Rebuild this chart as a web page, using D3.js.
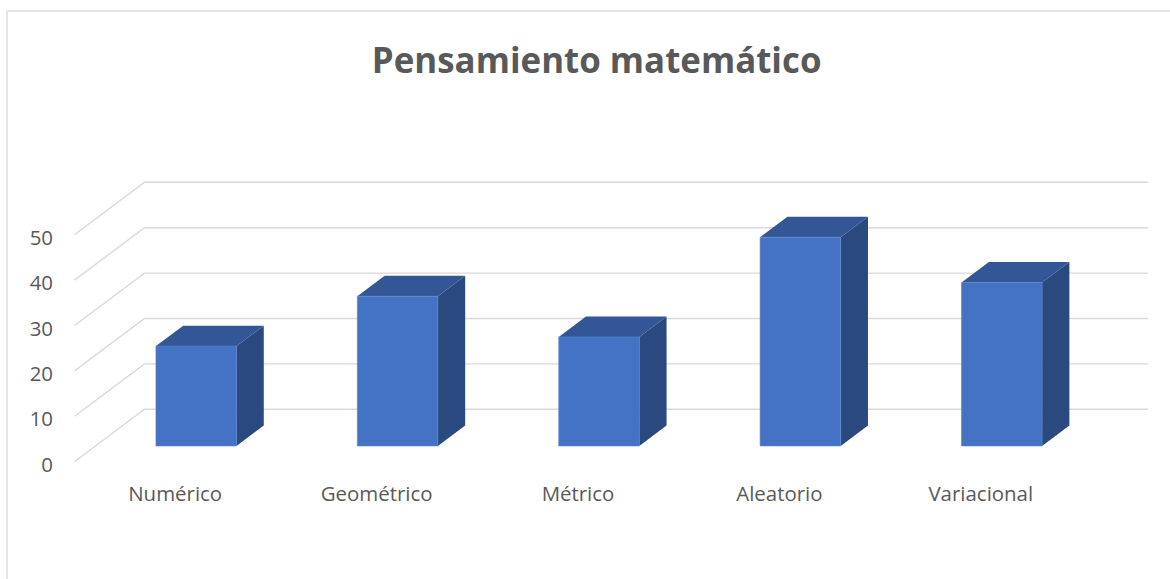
<!DOCTYPE html>
<html>
<head>
<meta charset="utf-8">
<script src="https://cdn.jsdelivr.net/npm/d3@7"></script>
<style>
  html, body { margin: 0; padding: 0; background: #ffffff; }
  svg { display: block; }
</style>
</head>
<body>
<svg id="chart" width="1170" height="579"></svg>
<script>
// ---- data ----
const categories = ["Numérico", "Geométrico", "Métrico", "Aleatorio", "Variacional"];
const values = [22, 33, 24, 46, 36];
const yTicks = [0, 10, 20, 30, 40, 50];
const titleText = "Pensamiento matemático";

// ---- layout ----
const W = 1170, H = 579;
const depthDX = 70, depthDY = -52.4;   // oblique projection of full depth (front -> back)
const barZ0 = 0.30, barZ1 = 0.69;     // bar depth range (fraction of floor depth)

const svg = d3.select("#chart");

const x = d3.scaleBand()
  .domain(categories)
  .range([74.5, 1081.5])
  .paddingInner(0.6)
  .paddingOuter(0.3);

const y = d3.scaleLinear().domain([0, 50]).range([461.7, 234.7]);

// project a (screenX at front, value, depth) to screen coords
const P = (sx, v, z) => [sx + z * depthDX, y(v) + z * depthDY];

const textColor = "#595959";
const gridColor = "#D9D9D9";

// chart border
svg.append("rect")
  .attr("x", 7).attr("y", 11)
  .attr("width", W + 20).attr("height", H + 20)
  .attr("fill", "none")
  .attr("stroke", gridColor)
  .attr("stroke-width", 1.3);

// title
const title = svg.append("text")
  .attr("x", 596.7).attr("y", 73.3)
  .attr("text-anchor", "middle")
  .attr("font-family", "'Open Sans', sans-serif")
  .attr("font-weight", 700)
  .attr("font-size", 32)
  .attr("fill", textColor)
  .text(titleText);
{
  const w = title.node().getComputedTextLength();
  title.attr("font-size", 32 * 450 / w);
}

// gridlines: side wall diagonal + back wall horizontal
const line = d3.line();
const gridG = svg.append("g");
const xFrontStart = x.range()[0], xFrontEnd = x.range()[1] - 3.5;
yTicks.forEach(t => {
  const pts = [P(xFrontStart, t, 0), P(xFrontStart, t, 1), P(xFrontEnd, t, 1)];
  gridG.append("path")
    .attr("d", line(pts))
    .attr("fill", "none")
    .attr("stroke", gridColor)
    .attr("stroke-width", 1.4);
});

// y tick labels
const labelFont = "'Open Sans', sans-serif";
const tickG = svg.append("g");
tickG.selectAll("text")
  .data(yTicks)
  .join("text")
  .attr("x", xFrontStart - 21.5)
  .attr("y", d => y(d) + 2)
  .attr("text-anchor", "end")
  .attr("dominant-baseline", "central")
  .attr("font-family", labelFont)
  .attr("font-size", 20)
  .attr("fill", textColor)
  .text(d => d);

// bars
const barsG = svg.append("g");
categories.forEach((c, i) => {
  const v = values[i];
  const x0 = x(c), x1 = x(c) + x.bandwidth();
  const g = barsG.append("g");
  // side face (right)
  g.append("path")
    .attr("d", line([P(x1, 0, barZ0), P(x1, 0, barZ1), P(x1, v, barZ1), P(x1, v, barZ0)]) + "Z")
    .attr("fill", "#2A4A7F");
  // top face
  g.append("path")
    .attr("d", line([P(x0, v, barZ0), P(x1, v, barZ0), P(x1, v, barZ1), P(x0, v, barZ1)]) + "Z")
    .attr("fill", "#325696");
  // front face
  g.append("path")
    .attr("d", line([P(x0, 0, barZ0), P(x1, 0, barZ0), P(x1, v, barZ0), P(x0, v, barZ0)]) + "Z")
    .attr("fill", "#4472C4")
    .attr("stroke", "#5A84CC")
    .attr("stroke-width", 0.6);
});

// x category labels
const xl = svg.append("g").selectAll("text")
  .data(categories)
  .join("text")
  .attr("x", d => x(d) + x.bandwidth() / 2)
  .attr("y", y(0) + 39.3)
  .attr("text-anchor", "middle")
  .attr("font-family", labelFont)
  .attr("font-size", 20)
  .attr("fill", textColor)
  .text(d => d);

// fit label font size so "Numérico" matches reference width (~94px)
{
  const w = xl.filter(d => d === categories[0]).node().getComputedTextLength();
  const fs = 20 * 94 / w;
  xl.attr("font-size", fs);
  tickG.selectAll("text").attr("font-size", fs);
}
</script>
</body>
</html>
